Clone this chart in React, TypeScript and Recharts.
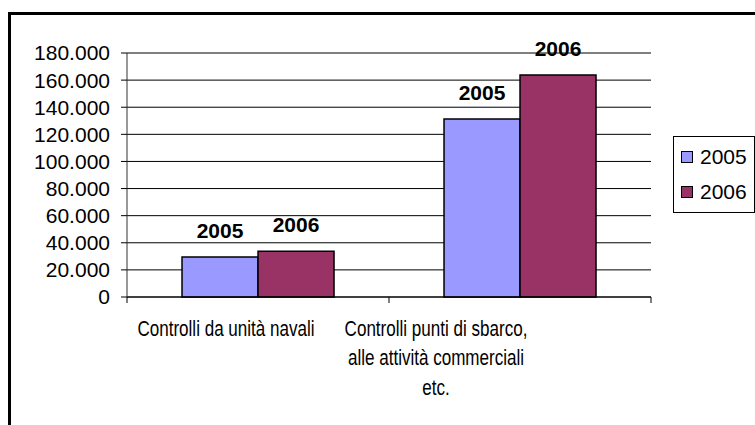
import { Bar, BarChart, CartesianGrid, LabelList, ReferenceLine, XAxis, YAxis } from 'recharts'

const CATEGORIES = ['Controlli da unità navali', 'Controlli punti di sbarco,\nalle attività commerciali\netc.']
const VALUES_2005 = [29500, 131300]
const VALUES_2006 = [33700, 163700]
const SERIES = ['2005', '2006']
const Y_TICKS = [0, 20000, 40000, 60000, 80000, 100000, 120000, 140000, 160000, 180000]

const COLORS: Record<string, string> = {
    '2005': '#9999FF',
    '2006': '#993366',
}

// Excel put the wrapped category text left of the band centre
const LABEL_SHIFT = [-32, -84]
const FONT = '"Liberation Sans", Arial, sans-serif'

const data = CATEGORIES.map((name, i) => ({
    name,
    '2005': VALUES_2005[i],
    '2006': VALUES_2006[i],
}))

const fmt = (v: number) => String(v).replace(/\B(?=(\d{3})+(?!\d))/g, '.')

function CategoryTick(props: any) {
    const { x, y, payload, index } = props
    const half = payload?.offset ?? 132
    const lines = String(payload.value).split('\n')
    const cx = x + (LABEL_SHIFT[index] ?? 0)
    return (
        <g>
            <line x1={x - half} x2={x - half} y1={y} y2={y + 6} stroke="#000" />
            {index === CATEGORIES.length - 1 && (
                <line x1={x + half} x2={x + half} y1={y} y2={y + 6} stroke="#000" />
            )}
            {/* the original font is condensed, squeeze it horizontally */}
            <g transform={`translate(${cx},0) scale(0.775,1)`}>
                <text textAnchor="middle" fontFamily={FONT} fontSize={22} fill="#000">
                    {lines.map((l, i) => (
                        <tspan key={i} x={0} y={y + 39 + i * 29.5}>
                            {l}
                        </tspan>
                    ))}
                </text>
            </g>
        </g>
    )
}

function ChartLegend() {
    return (
        <div
            style={{
                position: 'absolute',
                left: 673,
                top: 136,
                width: 82,
                height: 77,
                border: '1px solid #000',
                boxSizing: 'border-box',
                background: '#fff',
                fontFamily: FONT,
                fontSize: 21,
            }}
        >
            {SERIES.map((s, i) => (
                <div
                    key={s}
                    style={{
                        position: 'absolute',
                        left: 7,
                        top: 20 + i * 35 - 12,
                        height: 24,
                        display: 'flex',
                        alignItems: 'center',
                        whiteSpace: 'nowrap',
                    }}
                >
                    <span
                        style={{
                            display: 'inline-block',
                            width: 10,
                            height: 10,
                            border: '1px solid #000',
                            background: COLORS[s],
                            marginRight: 7,
                        }}
                    />
                    <span>{s}</span>
                </div>
            ))}
        </div>
    )
}

export default function App() {
    return (
        <div
            style={{
                position: 'fixed',
                left: 0,
                top: 0,
                width: 755,
                height: 425,
                overflow: 'hidden',
                background: '#fff',
            }}
        >
            <div
                style={{
                    position: 'absolute',
                    left: 8,
                    top: 12,
                    width: 800,
                    height: 500,
                    borderTop: '3px solid #000',
                    borderLeft: '3px solid #000',
                }}
            />
            <div style={{ position: 'absolute', left: 8, top: 8 }}>
                <BarChart
                    width={747}
                    height={417}
                    data={data}
                    margin={{ top: 45, right: 104, left: 0, bottom: 0 }}
                    barCategoryGap="21%"
                    barGap={0}
                >
                    <CartesianGrid vertical={false} stroke="#000" />
                    <XAxis
                        dataKey="name"
                        height={128}
                        tickLine={false}
                        tickSize={0}
                        tickMargin={0}
                        axisLine={{ stroke: '#000' }}
                        tick={<CategoryTick />}
                        interval={0}
                    />
                    <YAxis
                        width={119}
                        domain={[0, 180000]}
                        ticks={Y_TICKS}
                        tickFormatter={fmt}
                        tickSize={6}
                        tickMargin={11}
                        axisLine={{ stroke: '#333' }}
                        tickLine={{ stroke: '#000' }}
                        tick={{ fontSize: 21, fill: '#000', fontFamily: FONT }}
                        interval={0}
                    />
                    <YAxis
                        yAxisId="r"
                        orientation="right"
                        width={0}
                        domain={[0, 180000]}
                        tick={false}
                        tickLine={false}
                        axisLine={{ stroke: '#808080' }}
                    />
                    <ReferenceLine y={180000} stroke="#808080" />
                    {SERIES.map((s) => (
                        <Bar key={s} dataKey={s} fill={COLORS[s]} stroke="#000" strokeWidth={1.5} isAnimationActive={false}>
                            <LabelList
                                position="top"
                                offset={19}
                                valueAccessor={() => s}
                                fill="#000"
                                fontSize={21}
                                fontWeight="bold"
                                fontFamily={FONT}
                            />
                        </Bar>
                    ))}
                </BarChart>
            </div>
            <ChartLegend />
        </div>
    )
}
